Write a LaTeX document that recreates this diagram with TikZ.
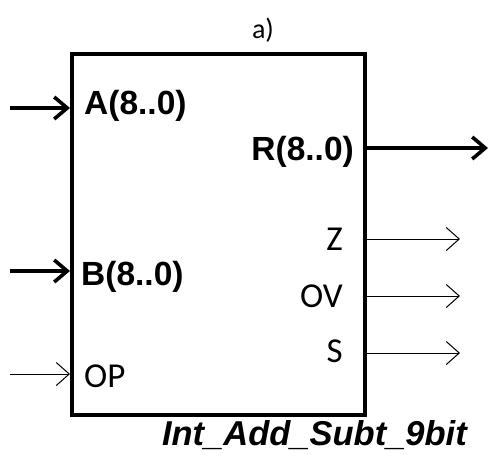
\documentclass[tikz,border=0pt]{standalone}
\usepackage{fontspec}
\setmainfont{Liberation Sans}
\newfontfamily\calfont{Carlito}
\usetikzlibrary{arrows.meta,positioning}
\tikzset{
  bus/.style={line width=3.6pt,-{Straight Barb[length=13pt,width=22pt,line width=3.6pt]}},
  sig/.style={line width=1pt,-{Straight Barb[length=13pt,width=23pt,line width=1pt]}},
  portbig/.style={inner sep=0pt,font=\fontsize{33.5}{38}\selectfont\bfseries},
  portsmall/.style={inner sep=0pt,font=\fontsize{35}{40}\selectfont\calfont},
}

\begin{document}
\begin{tikzpicture}[x=1pt,y=-1pt]
    \useasboundingbox (0,0) rectangle (490,459);
    \node[draw,line width=3.6pt,minimum width=293pt,minimum height=361pt,inner sep=0pt,anchor=north west] (blk) at (70,52) {};
    \node[anchor=base,inner sep=0pt,font=\fontsize{28}{32}\selectfont\calfont] (cap) at (263,38) {a)};
    % inputs
    \coordinate (ain) at (10,108);
    \coordinate (bin) at (10,271);
    \coordinate (opin) at (10,374);
    \draw[bus] (ain) -- (ain -| blk.west);
    \draw[bus] (bin) -- (bin -| blk.west);
    \draw[sig] (opin) -- (opin -| blk.west);
    \node[portbig,anchor=base west] (alab) at (84,114) {A(8..0)};
    \node[portbig,anchor=base west] (blab) at (81,285) {B(8..0)};
    \node[portsmall,anchor=base west] (oplab) at (84,387) {OP};
    % outputs
    \coordinate (rout) at (488,148);
    \draw[bus] (rout -| blk.east) -- (rout);
    \node[portbig,anchor=base east] (rlab) at (354,160) {R(8..0)};
    \foreach \nm/\yy/\by in {Z/239/250,OV/296/307,S/353/362}{
      \coordinate (\nm out) at (460,\yy);
      \draw[sig] (\nm out -| blk.east) -- (\nm out);
      \node[portsmall,anchor=base east] (\nm lab) at (343,\by) {\nm};
    }
    \node[anchor=base east,inner sep=0pt,font=\fontsize{34.5}{40}\selectfont\bfseries\itshape] (title) at (467,445) {Int\_Add\_Subt\_9bit};
  \end{tikzpicture}
\end{document}
